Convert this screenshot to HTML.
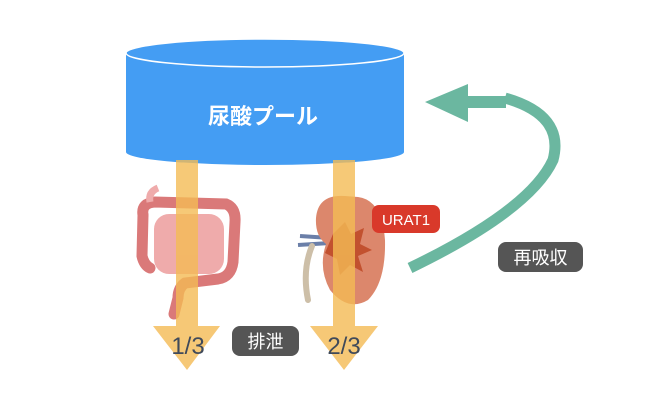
<!DOCTYPE html>
<html><head><meta charset="utf-8"><style>
body{margin:0;background:#fff;width:660px;height:402px;overflow:hidden}
</style></head><body>
<svg width="660" height="402" viewBox="0 0 660 402" xmlns="http://www.w3.org/2000/svg" font-family="Liberation Sans, Noto Sans CJK JP, sans-serif">
<path d="M126 53 L126 152 A139 13 0 0 0 404 152 L404 53 Z" fill="#449df3"/>
<ellipse cx="265" cy="53" rx="139" ry="14" fill="#449df3" stroke="#fff" stroke-width="1.5"/>
<text x="263" y="124" font-size="22" font-weight="bold" fill="#fff" text-anchor="middle">尿酸プール</text>
<g opacity="0.9">
<path d="M143 215 Q141 203 155 202 L226 204 Q236 208 235 222 L233 262 Q231 277 218 279 L185 283 Q178 288 178 298 L174 314" fill="none" stroke="#d76b6b" stroke-width="11" stroke-linecap="round"/>
<path d="M143 215 L142 256 Q144 265 150 268" fill="none" stroke="#d76b6b" stroke-width="11" stroke-linecap="round"/>
<rect x="154" y="214" width="70" height="60" rx="15" fill="#eea3a3"/>
<path d="M150 202 Q148 192 158 188" fill="none" stroke="#eea3a3" stroke-width="7"/>
</g>
<path d="M300 236 L330 238 M298 245 L330 243" stroke="#6b7fa8" stroke-width="4"/>
<path d="M312 246 Q302 270 308 300" fill="none" stroke="#cdbfa8" stroke-width="6" stroke-linecap="round"/>
<path d="M345 196 Q318 194 316 218 Q315 236 326 244 Q318 268 330 290 Q348 312 368 300 Q386 282 385 240 Q382 200 358 197 Z" fill="#dc876c"/>
<path d="M333 234 L345 222 L351 234 L364 228 L360 244 L372 250 L358 256 L363 272 L350 265 L340 275 L337 259 L325 253 Z" fill="#c2512f"/>
<g fill="#f4bb55" opacity="0.8">
<rect x="176" y="160" width="22" height="166"/>
<polygon points="153,326 220,326 187,370"/>
<rect x="333" y="160" width="22" height="166"/>
<polygon points="310,326 378,326 344,370"/>
</g>
<text x="188" y="354" font-size="24" fill="#404a5a" text-anchor="middle">1/3</text>
<text x="344" y="354" font-size="24" fill="#404a5a" text-anchor="middle">2/3</text>
<rect x="232" y="326" width="67" height="30" rx="8" fill="#555"/>
<text x="265.5" y="348" font-size="18" fill="#fff" text-anchor="middle">排泄</text>
<rect x="372" y="205" width="68" height="28" rx="7" fill="#d9392a"/>
<text x="406" y="225" font-size="15" fill="#fff" text-anchor="middle">URAT1</text>
<path d="M410 268 Q530 210 553 160 Q565 115 505 98" fill="none" stroke="#6bb7a0" stroke-width="11"/>
<polygon points="425,102 468,84 468,96 506,96 506,108 468,108 468,122" fill="#6bb7a0"/>
<rect x="498" y="242" width="85" height="30" rx="8" fill="#555"/>
<text x="540.5" y="264" font-size="18" fill="#fff" text-anchor="middle">再吸収</text>
</svg>
</body></html>
